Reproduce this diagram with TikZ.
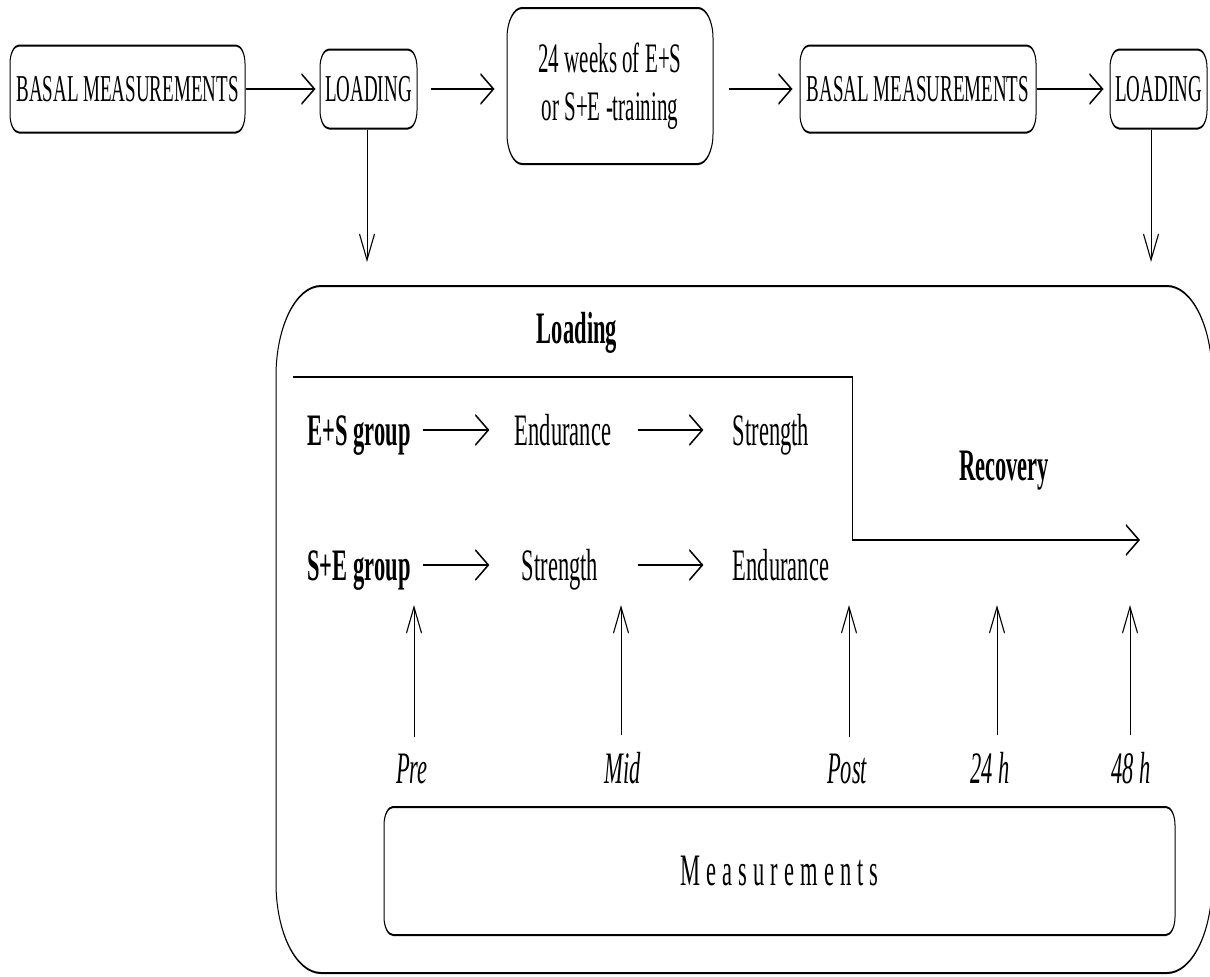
\documentclass[tikz,border=0pt]{standalone}
\usepackage{fontspec}
\setmainfont{Liberation Serif}
\newfontfamily\spacedfont[LetterSpace=27]{Liberation Serif}
\usetikzlibrary{arrows.meta}
\begin{document}
\begin{tikzpicture}[x=1pt,y=-1pt]
\useasboundingbox (0,0) rectangle (1210,977);
\begin{scope}[transform canvas={xscale=0.5}, x=2pt, y=-1pt,
  line width=2pt,
  arr/.style={-{Straight Barb[length=26pt,width=30pt]}},
  box/.style={draw, rounded corners=18pt, inner sep=0pt, align=center},
  btext/.style={font=\fontsize{38pt}{44pt}\selectfont},
  lbl/.style={inner sep=0pt, anchor=base, font=\fontsize{45pt}{50pt}\selectfont},
  hd/.style={inner sep=0pt, anchor=base, font=\fontsize{45pt}{50pt}\selectfont\bfseries},
  it/.style={inner sep=0pt, anchor=base, font=\fontsize{45pt}{50pt}\selectfont\itshape}]

% top row
\node[box, btext, minimum width=470pt, minimum height=87pt] (b1) at (127.5,89) {BASAL MEASUREMENTS};
\node[box, btext, minimum width=194pt, minimum height=79pt] (b2) at (368.5,89) {LOADING};
\node[box, rounded corners=30pt, font=\fontsize{42pt}{48pt}\selectfont, minimum width=412pt, minimum height=156pt] (b3) at (610,86) {24 weeks of E+S\\or S+E -training};
\node[box, btext, minimum width=472pt, minimum height=87pt] (b4) at (918,89) {BASAL MEASUREMENTS};
\node[box, btext, minimum width=194pt, minimum height=79pt] (b5) at (1158.5,89) {LOADING};

\draw[arr, shorten >=8pt] (b1.east) -- (b2.west);
\draw[arr, shorten <=26pt, shorten >=24pt] (b2.east) -- (b3.west |- b2.east);
\draw[arr, shorten <=30pt, shorten >=14pt] (b3.east |- b4.west) -- (b4.west);
\draw[arr, shorten >=12pt] (b4.east) -- (b5.west);

\coordinate (d1) at (367,262);
\coordinate (d2) at (1151,262);
\draw[arr] (b2.south -| d1) -- (d1);
\draw[arr] (b5.south -| d2) -- (d2);

% big frame
\node[draw, rounded corners=90pt, minimum width=1872pt, minimum height=687pt, inner sep=0pt] (big) at (744,629.5) {};

\node[hd] (load) at (577,343) {Loading};

\coordinate (p1) at (293,377);
\coordinate (p2) at (852,377);
\coordinate (p3) at (852,540);
\coordinate (p4) at (1140,540);
\draw[arr] (p1) -- (p2) -- (p3) -- (p4);

\node[hd] (rec) at (1004,480) {Recovery};

% groups
\node[hd] (es) at (359,445) {E+S group};
\node[lbl] (e1) at (563,445) {Endurance};
\node[lbl] (st1) at (771,445) {Strength};
\node[hd] (se) at (359,580) {S+E group};
\node[lbl] (st2) at (560,580) {Strength};
\node[lbl] (e2) at (781,580) {Endurance};

\draw[arr, shorten <=24pt, shorten >=50pt] ([yshift=15pt]es.base east) -- ([yshift=15pt]e1.base west);
\draw[arr, shorten <=52pt, shorten >=58pt] ([yshift=15pt]e1.base east) -- ([yshift=15pt]st1.base west);
\draw[arr, shorten <=24pt, shorten >=64pt] ([yshift=15pt]se.base east) -- ([yshift=15pt]st2.base west);
\draw[arr, shorten <=78pt, shorten >=58pt] ([yshift=15pt]st2.base east) -- ([yshift=15pt]e2.base west);

% time points
\node[it] (pre) at (412,783) {Pre};
\node[it] (mid) at (623,783) {Mid};
\node[it] (post) at (847,783) {Post};
\node[it] (h24) at (990,783) {24 h};
\node[it] (h48) at (1131,783) {48 h};

\coordinate (tpre) at (414,605);
\coordinate (tmid) at (621,605);
\coordinate (tpost) at (849,605);
\coordinate (t24) at (997,605);
\coordinate (t48) at (1130,605);
\draw[arr, shorten <=16pt] (pre.north -| tpre) -- (tpre);
\draw[arr, shorten <=16pt] (mid.north -| tmid) -- (tmid);
\draw[arr, shorten <=16pt] (post.north -| tpost) -- (tpost);
\draw[arr, shorten <=16pt] (h24.north -| t24) -- (t24);
\draw[arr, shorten <=16pt] (h48.north -| t48) -- (t48);

\node[box, minimum width=1582pt, minimum height=128pt, font=\fontsize{45pt}{50pt}\spacedfont] (meas) at (779.5,871) {Measurements};
\end{scope}
\end{tikzpicture}
\end{document}
